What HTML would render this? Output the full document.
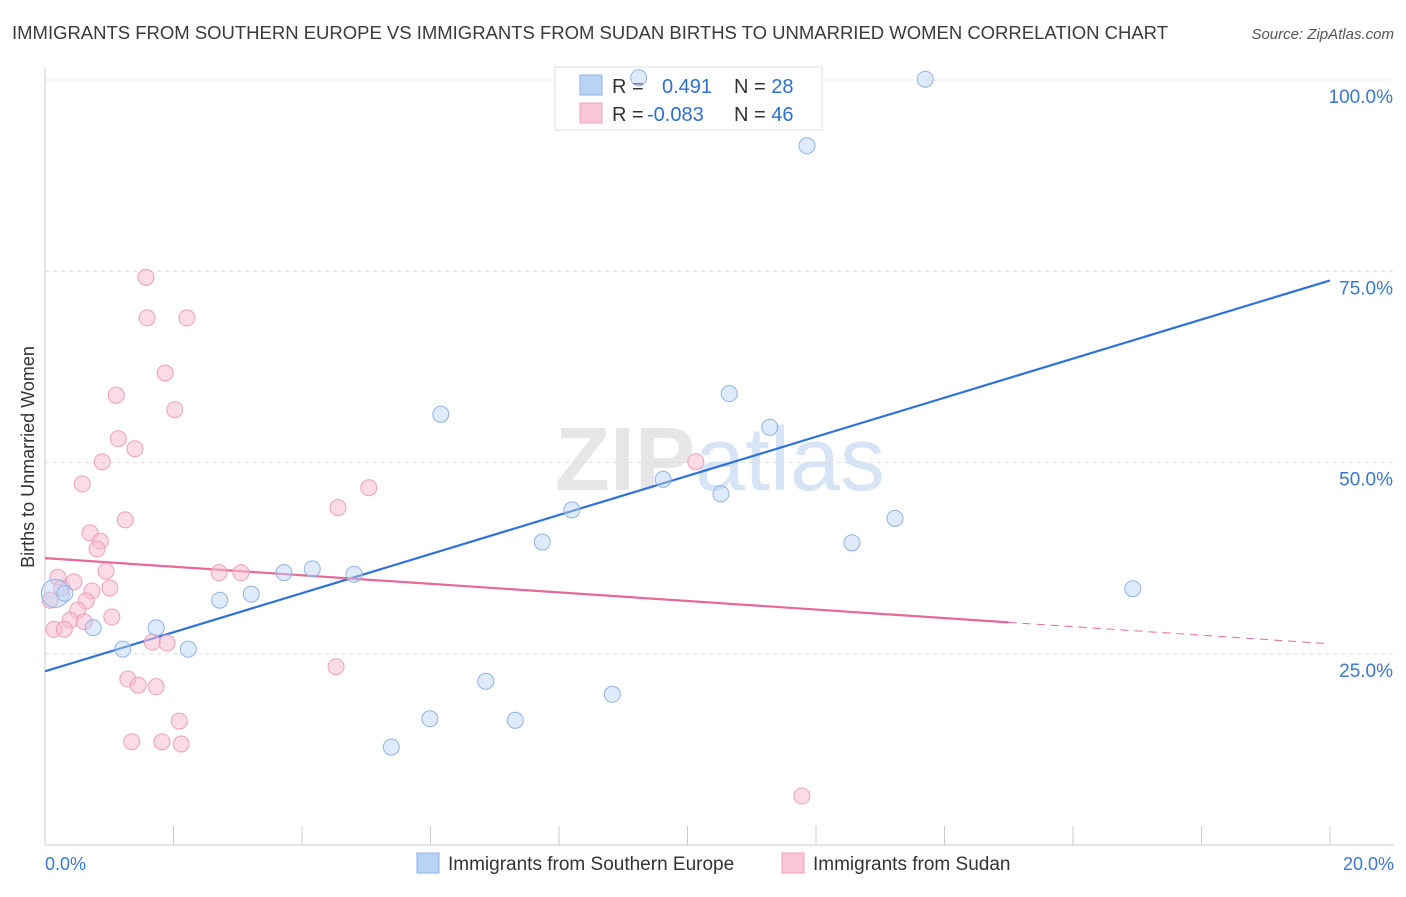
<!DOCTYPE html>
<html><head><meta charset="utf-8"><style>
body{margin:0;background:#fff;font-family:"Liberation Sans",sans-serif;}
svg text{font-family:"Liberation Sans",sans-serif;}
</style></head><body>
<svg id="c" width="1406" height="892" xmlns="http://www.w3.org/2000/svg">
<text x="12" y="39" font-size="18" fill="#3a3a3a" textLength="1156" lengthAdjust="spacingAndGlyphs">IMMIGRANTS FROM SOUTHERN EUROPE VS IMMIGRANTS FROM SUDAN BIRTHS TO UNMARRIED WOMEN CORRELATION CHART</text>
<text x="1394" y="39" font-size="15" fill="#555" text-anchor="end" font-style="italic">Source: ZipAtlas.com</text>
<text x="720" y="490" font-size="90" fill="#e6e6e6" text-anchor="middle" font-weight="bold">ZIP<tspan fill="#d6e4f5" font-weight="normal">atlas</tspan></text>
<text transform="translate(34,457) rotate(-90)" font-size="18" fill="#333" text-anchor="middle">Births to Unmarried Women</text>
<g id="grid"></g><g id="trend"></g>
<g>
<rect x="555" y="67" width="267" height="63" fill="#fff" stroke="#ddd"/>
<rect x="580" y="75" width="22" height="20" fill="#b9d3f5" stroke="#8fb3e8"/>
<rect x="580" y="103" width="22" height="20" fill="#f8c6d4" stroke="#f0a0b8"/>
<text x="612" y="93" font-size="20" fill="#333">R = <tspan x="662" fill="#2f6fd0">0.491</tspan><tspan x="734" fill="#333">N = </tspan><tspan fill="#2f6fd0">28</tspan></text>
<text x="612" y="121" font-size="20" fill="#333">R = <tspan x="647" fill="#2f6fd0">-0.083</tspan><tspan x="734" fill="#333">N = </tspan><tspan fill="#2f6fd0">46</tspan></text>
</g>
<g id="pts"></g>
<g>
<rect x="417" y="853" width="22" height="20" fill="#b9d3f5" stroke="#8fb3e8"/>
<text x="448" y="870" font-size="19" fill="#333">Immigrants from Southern Europe</text>
<rect x="782" y="853" width="22" height="20" fill="#f8c6d4" stroke="#f0a0b8"/>
<text x="813" y="870" font-size="19" fill="#333">Immigrants from Sudan</text>
</g>
<text x="45" y="870" font-size="18" fill="#3a78d0">0.0%</text>
<text x="1394" y="870" font-size="18" fill="#3a78d0" text-anchor="end">20.0%</text>
</svg>
<script>
const yTicks=[25,50,75,100];
const yTickLabels=["25.0%","50.0%","75.0%","100.0%"];
const xTickVals=[0,2,4,6,8,10,12,14,16,18,20];
const blueX=[9.24,13.70,11.86,6.16,10.65,11.28,9.62,10.52,8.20,7.74,12.56,13.23,16.93,3.72,4.16,4.81,3.21,2.72,1.73,2.23,1.21,0.75,0.16,0.31,6.86,8.83,5.99,7.32,5.39];
const blueY=[100.3,100.1,91.4,56.3,59.0,54.6,47.8,45.9,43.8,39.6,39.5,42.7,33.5,35.6,36.1,35.4,32.8,32.0,28.4,25.6,25.6,28.4,32.9,32.9,21.4,19.7,16.5,16.3,12.8];
const pinkX=[1.57,1.59,2.21,1.87,1.11,2.02,1.14,1.40,0.89,0.58,10.13,5.04,4.56,1.25,0.70,0.86,0.81,0.95,0.20,0.45,0.26,0.73,1.01,2.71,3.05,0.08,0.64,0.51,1.04,0.39,0.61,0.14,0.30,1.67,1.90,4.53,1.29,1.45,1.73,2.09,1.35,1.82,2.12,11.78];
const pinkY=[74.2,68.9,68.9,61.7,58.8,56.9,53.1,51.8,50.1,47.2,50.1,46.7,44.1,42.5,40.8,39.7,38.7,35.8,35.0,34.4,33.6,33.2,33.6,35.6,35.6,32.0,31.9,30.7,29.8,29.4,29.2,28.2,28.2,26.5,26.4,23.3,21.7,20.9,20.7,16.2,13.5,13.5,13.2,6.4];
const blueTrend=[22.7,73.8];
const pinkTrend=[37.5,26.3];
const pinkSolidEnd=15.0;
const NS="http://www.w3.org/2000/svg";
const X=v=>45+v/20*1285, Y=v=>845-v*7.65;
function mk(t,a,p){const e=document.createElementNS(NS,t);for(const k in a)e.setAttribute(k,a[k]);p.appendChild(e);return e;}
const g=document.getElementById('grid');
mk('line',{x1:45,y1:68,x2:45,y2:845,stroke:'#ccc'},g);
mk('line',{x1:45,y1:845,x2:1394,y2:845,stroke:'#ccc'},g);
yTicks.forEach((t,i)=>{
 const l=mk('line',{x1:45,y1:Y(t),x2:1394,y2:Y(t),stroke:'#ddd','stroke-dasharray':'4,4'},g);
 
 
 const tx=mk('text',{x:1393,y:Y(t)+23,'font-size':19,fill:'#3a78d0','text-anchor':'end'},g);
 tx.textContent=yTickLabels[i];
 
 
});
xTickVals.forEach(v=>{
 const l=mk('line',{x1:X(v),y1:826,x2:X(v),y2:845,stroke:'#ccc'},g);
 
 
});
const tr=document.getElementById('trend');
let b=mk('line',{x1:X(0),y1:Y(blueTrend[0]),x2:X(20),y2:Y(blueTrend[1]),stroke:'#2f72d8','stroke-width':2.2},tr);


const py=v=>pinkTrend[0]+(pinkTrend[1]-pinkTrend[0])*v/20;
let p1=mk('line',{x1:X(0),y1:Y(py(0)),x2:X(pinkSolidEnd),y2:Y(py(pinkSolidEnd)),stroke:'#e8689a','stroke-width':2.2},tr);


let p2=mk('line',{x1:X(pinkSolidEnd),y1:Y(py(pinkSolidEnd)),x2:X(20),y2:Y(py(20)),stroke:'#e8689a','stroke-width':1,'stroke-dasharray':'8,6'},tr);


const pts=document.getElementById('pts');
pinkX.forEach((x,i)=>{
 const c=mk('circle',{cx:X(x),cy:Y(pinkY[i]),r:8,fill:'rgba(248,190,208,0.55)',stroke:'#eea0b8','stroke-width':1},pts);
 
 
});
blueX.forEach((x,i)=>{
 const c=mk('circle',{cx:X(x),cy:Y(blueY[i]),r:(i==22?14:8),fill:'rgba(185,211,245,0.45)',stroke:'#8fb3e8','stroke-width':1},pts);
 
 
});
</script>
</body></html>
